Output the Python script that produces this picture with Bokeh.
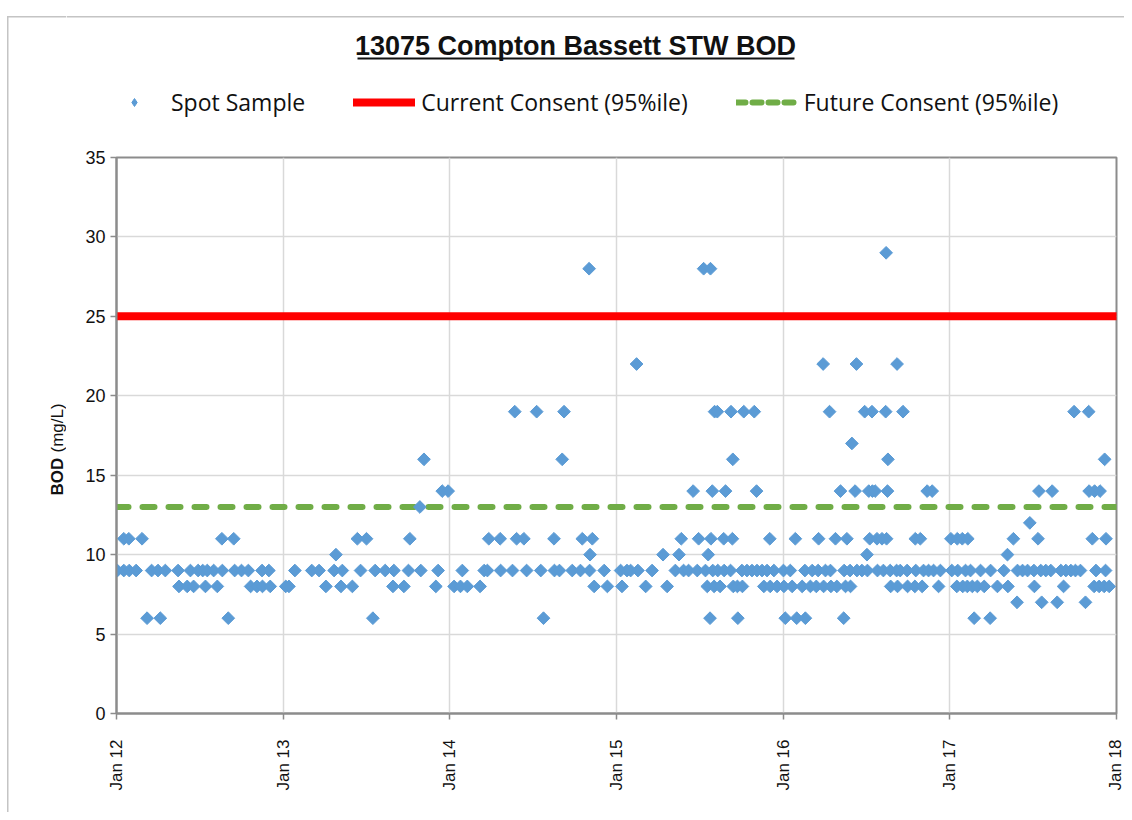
import numpy as np
import pandas as pd
from bokeh.plotting import figure
from bokeh.layouts import column, row
from bokeh.models import (ColumnDataSource, FixedTicker, DatetimeTickFormatter, Legend,
                          LegendItem, Label, BoxAnnotation, Range1d)
from bokeh.embed import file_html
from bokeh.resources import INLINE

TITLE = "13075 Compton Bassett STW BOD"
SERIES_NAMES = ["Spot Sample", "Current Consent (95%ile)", "Future Consent (95%ile)"]
CURRENT_CONSENT = 25
FUTURE_CONSENT = 13
Y_TICKS = [0, 5, 10, 15, 20, 25, 30, 35]
X_TICK_DATES = ["2012-01-01", "2013-01-01", "2014-01-01", "2015-01-01",
                "2016-01-01", "2017-01-01", "2018-01-01"]
Y_LABEL_BOLD = "BOD"
Y_LABEL_UNITS = "(mg/L)"

# sample day-of-year and BOD (mg/L) per year
day_2012 = [2, 16, 16, 27, 28, 43, 56, 67, 77, 91, 96, 107, 135, 137, 155, 162, 169, 179, 189, 195,
            199, 213, 221, 232, 231, 245, 257, 259, 274, 289, 294, 308, 319, 320, 334, 337]
bod_2012 = [9, 9, 11, 11, 9, 9, 11, 6, 9, 9, 6, 9, 9, 8, 8, 9, 8, 9, 9, 8,
            9, 9, 8, 9, 11, 6, 11, 9, 9, 9, 8, 8, 9, 8, 9, 8]

day_2013 = [5, 12, 25, 62, 78, 93, 111, 115, 126, 129, 151, 162, 169, 182, 196, 201, 223, 240, 242,
            264, 274, 277, 299, 301, 308, 334, 339, 348, 361]
bod_2013 = [8, 8, 9, 9, 9, 8, 9, 10, 8, 9, 8, 11, 9, 11, 6, 9, 9, 8, 9,
            8, 9, 11, 13, 9, 16, 8, 9, 14, 14]

day_2014 = [9, 23, 27, 38, 66, 75, 82, 85, 110, 111, 137, 142, 146, 162, 168, 190, 199, 205, 228,
            229, 240, 246, 250, 268, 286, 290, 305, 306, 307, 312, 316, 338, 345]
bod_2014 = [8, 8, 9, 8, 8, 9, 9, 11, 11, 9, 9, 19, 11, 11, 9, 19, 9, 6, 11,
            9, 9, 16, 19, 9, 9, 11, 28, 9, 10, 11, 8, 9, 8]

day_2015 = [9, 12, 23, 31, 44, 47, 64, 78, 102, 111, 129, 137, 142, 147, 158, 168, 177, 180, 191,
            195, 199, 201, 205, 206, 207, 210, 211, 214, 215, 221, 222, 227, 235, 236, 239, 250,
            251, 254, 255, 256, 265, 266, 275, 276, 279, 286, 297, 302, 307, 308, 319, 323, 330,
            336, 337, 345, 352]
bod_2015 = [9, 8, 9, 9, 22, 9, 8, 9, 10, 8, 9, 10, 11, 9, 9, 14, 9, 11, 28,
            9, 8, 10, 6, 28, 11, 14, 9, 8, 19, 19, 9, 8, 11, 9, 14, 9,
            19, 11, 16, 8, 8, 6, 9, 8, 19, 9, 9, 19, 14, 9, 9, 8, 9,
            11, 8, 9, 8]

day_2016 = [1, 2, 5, 16, 20, 27, 30, 42, 48, 49, 60, 64, 73, 77, 78, 88, 89, 93, 102, 104, 105,
            115, 118, 126, 133, 134, 137, 140, 147, 148, 151, 158, 161, 162, 173, 179, 184, 185,
            188, 190, 195, 196, 202, 206, 207, 217, 220, 225, 226, 227, 229, 230, 235, 236, 249,
            250, 251, 257, 263, 272, 273, 289, 290, 291, 301, 305, 308, 316, 319, 327, 330, 341,
            345]
bod_2016 = [9, 8, 6, 9, 8, 11, 6, 8, 9, 6, 8, 9, 8, 9, 11, 22, 8, 9, 19, 9, 8,
            11, 8, 14, 6, 9, 8, 11, 9, 8, 17, 14, 22, 9, 9, 19, 10, 9,
            14, 11, 19, 14, 14, 11, 9, 11, 9, 19, 29, 11, 14, 16, 9, 8, 9,
            22, 8, 9, 19, 9, 8, 8, 11, 9, 11, 8, 9, 14, 9, 14, 9, 8,
            9]

day_2017 = [2, 4, 15, 16, 17, 27, 28, 34, 38, 39, 45, 49, 53, 60, 67, 75, 88, 89, 104, 118, 126,
            127, 139, 147, 148, 159, 170, 175, 184, 185, 193, 195, 199, 201, 210, 221, 224, 235,
            243, 249, 254, 265, 272, 275, 286, 297, 304, 305, 312, 316, 317, 320, 327, 329, 338,
            339, 341, 342, 349]
bod_2017 = [11, 9, 8, 11, 9, 11, 8, 9, 8, 11, 9, 8, 6, 8, 9, 8, 6, 9, 8, 9, 10,
            8, 11, 7, 9, 9, 9, 12, 9, 8, 11, 14, 9, 7, 9, 9, 14, 7,
            9, 8, 9, 9, 19, 9, 9, 7, 19, 14, 11, 8, 14, 9, 8, 14, 8,
            16, 9, 11, 8]

years = [2012, 2013, 2014, 2015, 2016, 2017]
days = [day_2012, day_2013, day_2014, day_2015, day_2016, day_2017]
bods = [bod_2012, bod_2013, bod_2014, bod_2015, bod_2016, bod_2017]

frames = []
for yr, d, b in zip(years, days, bods):
    dt = pd.Timestamp(f"{yr}-01-01") + pd.to_timedelta(np.array(d, dtype=float), unit="D")
    frames.append(pd.DataFrame({"date": dt, "bod": b}))
df = pd.concat(frames, ignore_index=True)
src = ColumnDataSource(df)

x_start = pd.Timestamp(X_TICK_DATES[0])
x_end = pd.Timestamp(X_TICK_DATES[-1])

BLUE = "#5B9BD5"
RED = "#FF0000"
GREEN = "#70AD47"
BORDER = "#c4c4c4"
TXT = "#111111"

TOTAL_W, TOTAL_H = 1124, 812
LEFT_W, TOP_H = 66, 130
RIGHT_W = TOTAL_W - LEFT_W
MAIN_H = TOTAL_H - TOP_H


def bare_figure(w, h):
    f = figure(width=w, height=h, output_backend="svg", toolbar_location=None,
               x_axis_location=None, y_axis_location=None,
               x_range=Range1d(0, 1), y_range=Range1d(0, 1))
    f.min_border = 0
    f.min_border_left = f.min_border_right = f.min_border_top = f.min_border_bottom = 0
    f.outline_line_color = None
    f.grid.visible = False
    f.background_fill_color = "white"
    f.border_fill_color = "white"
    return f


def canvas_box(fig, left, right, top, bottom, color):
    fig.add_layout(BoxAnnotation(left=left, right=right, top=top, bottom=bottom,
                                 left_units="canvas", right_units="canvas",
                                 top_units="canvas", bottom_units="canvas",
                                 fill_color=color, fill_alpha=1, line_color=None))


# ---- left strip (full height): chart border + y-axis title ----
left = bare_figure(LEFT_W, TOTAL_H)
canvas_box(left, 6.5, 8, 15.5, TOTAL_H, BORDER)
canvas_box(left, 6.5, LEFT_W, 15.5, 17, BORDER)
left.add_layout(Label(x=57, y=495, x_units="canvas", y_units="canvas", text=Y_LABEL_BOLD,
                      angle=np.pi / 2, text_align="left", text_baseline="middle",
                      text_font="Liberation Sans", text_font_style="bold",
                      text_font_size="17px", text_color=TXT))
left.add_layout(Label(x=57, y=452, x_units="canvas", y_units="canvas", text=Y_LABEL_UNITS,
                      angle=np.pi / 2, text_align="left", text_baseline="middle",
                      text_font="Liberation Sans", text_font_size="17px", text_color=TXT))

# ---- top strip: title + legend ----
top = bare_figure(RIGHT_W, TOP_H)
top.add_layout(Label(x=575 - LEFT_W, y=45, x_units="canvas", y_units="canvas", text=TITLE,
                     text_align="center", text_baseline="alphabetic",
                     text_font="Liberation Sans", text_font_style="bold",
                     text_font_size="27px", text_color=TXT))
canvas_box(top, 357 - LEFT_W, 794 - LEFT_W, 57, 59, TXT)      # title underline
canvas_box(top, 0, RIGHT_W, 15.5, 17, BORDER)                 # chart border (top)

# legend keys reuse the data (out of view in this strip)
k_spot = top.scatter(x="date", y="bod", source=src, marker="diamond", size=14,
                     fill_color=BLUE, line_color=BLUE)
k_cur = top.line(x=[x_start, x_end], y=[CURRENT_CONSENT, CURRENT_CONSENT],
                 line_color=RED, line_width=8, line_cap="round")
k_fut = top.line(x=[x_start, x_end], y=[FUTURE_CONSENT, FUTURE_CONSENT],
                 line_color=GREEN, line_width=6, line_dash="9 7", line_cap="round")
legend = Legend(items=[LegendItem(label=SERIES_NAMES[0], renderers=[k_spot]),
                       LegendItem(label=SERIES_NAMES[1], renderers=[k_cur]),
                       LegendItem(label=SERIES_NAMES[2], renderers=[k_fut])],
                orientation="horizontal", location=(103 - LEFT_W, 12))
legend.label_text_font = "Open Sans"
legend.label_text_font_size = "23px"
legend.label_text_color = TXT
legend.glyph_width = 62
legend.glyph_height = 20
legend.label_standoff = 6
legend.spacing = 48
legend.padding = 0
legend.margin = 0
legend.border_line_color = None
legend.background_fill_alpha = 0
top.add_layout(legend, "center")

# ---- main chart ----
p = figure(width=RIGHT_W, height=MAIN_H, x_axis_type="datetime", output_backend="svg",
           toolbar_location=None, x_range=Range1d(x_start, x_end), y_range=Range1d(0, 35))
p.min_border_left = 116 - LEFT_W
p.min_border_right = 8
p.min_border_top = 157 - TOP_H
p.min_border_bottom = TOTAL_H - 713
p.background_fill_color = "white"
p.border_fill_color = "white"
p.outline_line_color = "#8c8c8c"
p.outline_line_width = 2

tick_ms = [pd.Timestamp(t).value // 10**6 for t in X_TICK_DATES]
p.xaxis.ticker = FixedTicker(ticks=tick_ms)
p.xgrid.ticker = FixedTicker(ticks=tick_ms)
fmt = "%b %y"
p.xaxis.formatter = DatetimeTickFormatter(years=fmt, months=fmt, days=fmt, hours=fmt,
                                          hourmin=fmt, minutes=fmt, minsec=fmt, seconds=fmt,
                                          milliseconds=fmt, microseconds=fmt)
p.xaxis.major_label_orientation = np.pi / 2
p.yaxis.ticker = FixedTicker(ticks=Y_TICKS)
p.ygrid.ticker = FixedTicker(ticks=Y_TICKS)

for ax in (p.xaxis, p.yaxis):
    ax.axis_line_color = "#8c8c8c"
    ax.axis_line_width = 2
    ax.major_tick_line_color = "#8c8c8c"
    ax.major_tick_line_width = 1.5
    ax.major_tick_out = 6
    ax.major_tick_in = 0
    ax.minor_tick_line_color = None
    ax.major_label_text_font = "Liberation Sans"
    ax.major_label_text_color = TXT
p.yaxis.major_label_text_font_size = "18px"
p.xaxis.major_label_text_font_size = "17px"
p.yaxis.major_label_standoff = 5
p.xaxis.major_label_standoff = 20

p.grid.grid_line_color = "#d9d9d9"
p.grid.grid_line_width = 1.5

p.line(x=[x_start, x_end], y=[CURRENT_CONSENT, CURRENT_CONSENT],
       line_color=RED, line_width=8, line_cap="round")
p.line(x=[x_start, x_end], y=[FUTURE_CONSENT, FUTURE_CONSENT],
       line_color=GREEN, line_width=6, line_dash="12 14", line_cap="round")
p.scatter(x="date", y="bod", source=src, marker="square", angle=np.pi / 4,
          size=9, fill_color=BLUE, line_color=BLUE)

layout = row(left, column(row(top, spacing=0), p, spacing=0), spacing=0)
open("out.html", "w").write(file_html(layout, INLINE))
